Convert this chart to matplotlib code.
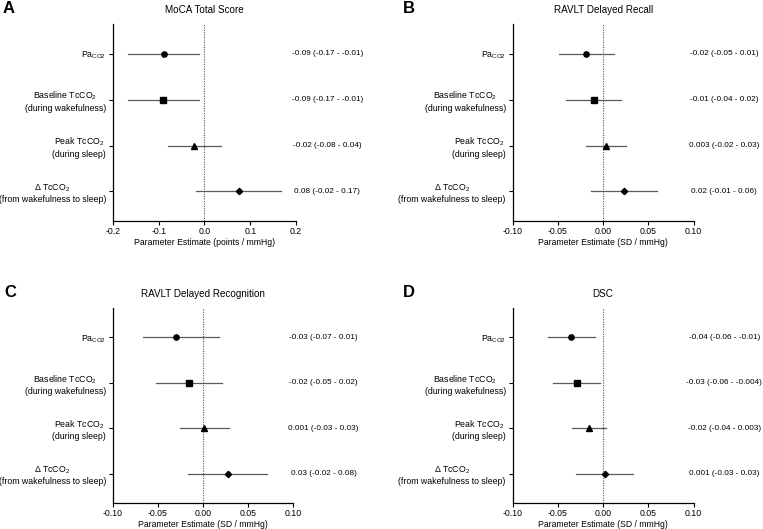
import matplotlib
matplotlib.use("Agg")
import matplotlib.pyplot as plt
import matplotlib.transforms as mtransforms

plt.rcParams['font.family'] = ['Liberation Sans', 'DejaVu Sans']
plt.rcParams['mathtext.default'] = 'regular'
plt.rcParams['mathtext.fontset'] = 'custom'
plt.rcParams['mathtext.rm'] = 'Liberation Sans'

row_labels = [
    "Pa$_{CO2}$",
    "Baseline TcCO$_2$\n(during wakefulness)",
    "Peak TcCO$_2$\n(during sleep)",
    "Δ TcCO$_2$\n(from wakefulness to sleep)",
]
markers = ['o', 's', '^', 'D']

titles = ["MoCA Total Score", "RAVLT Delayed Recall",
          "RAVLT Delayed Recognition", "DSC"]
letters = ["A", "B", "C", "D"]
xlabels = ["Parameter Estimate (points / mmHg)", "Parameter Estimate (SD / mmHg)",
           "Parameter Estimate (SD / mmHg)", "Parameter Estimate (SD / mmHg)"]

# Estimates and 95% CI
est_A = [-0.089, -0.090, -0.023, 0.075]
lo_A = [-0.167, -0.167, -0.080, -0.018]
hi_A = [-0.011, -0.012, 0.036, 0.168]

est_B = [-0.019, -0.0105, 0.003, 0.0234]
lo_B = [-0.049, -0.041, -0.0195, -0.013]
hi_B = [0.012, 0.020, 0.025, 0.060]

est_C = [-0.0295, -0.0155, 0.001, 0.0273]
lo_C = [-0.0664, -0.052, -0.0258, -0.0162]
hi_C = [0.0177, 0.0214, 0.0284, 0.0716]

est_D = [-0.0352, -0.0285, -0.0157, 0.0017]
lo_D = [-0.0606, -0.055, -0.0348, -0.0297]
hi_D = [-0.009, -0.0035, 0.0035, 0.0326]

text_A = ["-0.09 (-0.17 - -0.01)", "-0.09 (-0.17 - -0.01)",
          "-0.02 (-0.08 - 0.04)", "0.08 (-0.02 - 0.17)"]
text_B = ["-0.02 (-0.05 - 0.01)", "-0.01 (-0.04 - 0.02)",
          "0.003 (-0.02 - 0.03)", "0.02 (-0.01 - 0.06)"]
text_C = ["-0.03 (-0.07 - 0.01)", "-0.02 (-0.05 - 0.02)",
          "0.001 (-0.03 - 0.03)", "0.03 (-0.02 - 0.08)"]
text_D = ["-0.04 (-0.06 - -0.01)", "-0.03 (-0.06 - -0.004)",
          "-0.02 (-0.04 - 0.003)", "0.001 (-0.03 - 0.03)"]

xticks_A = [-0.2, -0.1, 0.0, 0.1, 0.2]
xticklabels_A = ["-0.2", "-0.1", "0.0", "0.1", "0.2"]
xticks_SD = [-0.10, -0.05, 0.0, 0.05, 0.10]
xticklabels_SD = ["-0.10", "-0.05", "0.00", "0.05", "0.10"]

panels = [
    (est_A, lo_A, hi_A, text_A, xticks_A, xticklabels_A),
    (est_B, lo_B, hi_B, text_B, xticks_SD, xticklabels_SD),
    (est_C, lo_C, hi_C, text_C, xticks_SD, xticklabels_SD),
    (est_D, lo_D, hi_D, text_D, xticks_SD, xticklabels_SD),
]

positions = [
    [0.148, 0.582, 0.240, 0.3724],
    [0.672, 0.582, 0.237, 0.3724],
    [0.148, 0.0491, 0.236, 0.3687],
    [0.672, 0.0491, 0.237, 0.3687],
]

fig = plt.figure(figsize=(7.63, 5.29), dpi=100)

for i, (est, lo, hi, txt, xt, xtl) in enumerate(panels):
    ax = fig.add_axes(positions[i])
    ys = list(range(len(est)))
    ax.axvline(0, color='#555555', linestyle=(0, (1, 1.2)), linewidth=0.8, zorder=1)
    for j in ys:
        ax.plot([lo[j], hi[j]], [j, j], color='#5a5a5a', linewidth=0.9, zorder=2)
        ax.plot(est[j], j, marker=markers[j], color='black',
                markersize=3.8 if markers[j] != 'D' else 3.2, linestyle='none', zorder=3)
    ax.set_ylim(3.65, -0.65)
    ax.set_xlim(xt[0], xt[-1])
    ax.set_xticks(xt)
    ax.set_xticklabels(xtl)
    ax.set_yticks(ys)
    ax.set_yticklabels(row_labels, multialignment='center')
    ax.tick_params(axis='y', labelsize=6.3, length=3, width=0.8, pad=2)
    ax.tick_params(axis='x', labelsize=6.3, length=3, width=0.8, pad=1.5)
    for s in ['top', 'right']:
        ax.spines[s].set_visible(False)
    for s in ['left', 'bottom']:
        ax.spines[s].set_linewidth(0.9)
    ax.set_xlabel(xlabels[i], fontsize=6.2, labelpad=1.5)
    ax.set_title(titles[i], fontsize=7.1, pad=8)
    trans = mtransforms.blended_transform_factory(ax.transAxes, ax.transData)
    for j in ys:
        ax.text(1.17, j, txt[j], transform=trans, ha='center', va='center',
                fontsize=5.9)
    ax.text(-0.605, 1.078, letters[i], transform=ax.transAxes, fontsize=12,
            fontweight='bold', ha='left', va='center')

fig.savefig("out.png", dpi=100)
